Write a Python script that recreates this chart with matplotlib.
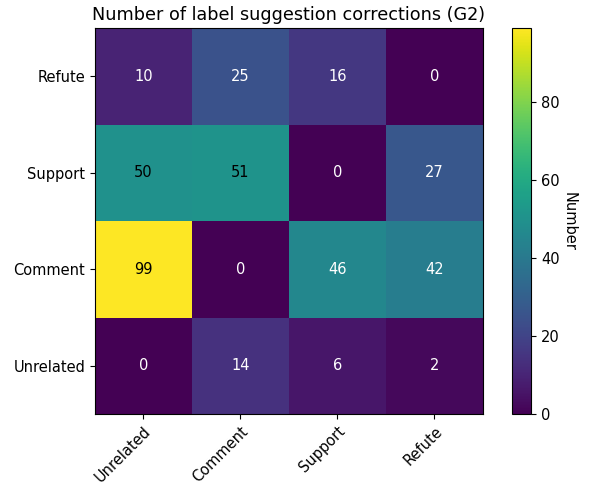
import numpy as np
from matplotlib import pyplot as plt

# rows listed bottom to top
rowLabels = ["Unrelated", "Comment", "Support", "Refute"]
colLabels = ["Unrelated", "Comment", "Support", "Refute"]
counts = np.array([
    [0, 14, 6, 2],
    [99, 0, 46, 42],
    [50, 51, 0, 27],
    [10, 25, 16, 0],
])

plt.rcParams["font.size"] = 10.5

fig = plt.figure(figsize=(5.91, 4.86), dpi=100)
ax = fig.add_axes([0.1607, 0.148, 0.6565, 0.794])
cax = fig.add_axes([0.867, 0.148, 0.032, 0.794])

im = ax.imshow(counts, cmap="viridis", origin="lower", aspect="auto")
ax.set_xticks(np.arange(len(colLabels)))
ax.set_yticks(np.arange(len(rowLabels)))
ax.set_xticklabels(colLabels)
ax.set_yticklabels(rowLabels)
plt.setp(ax.get_xticklabels(), rotation=45, ha="right", rotation_mode="anchor")

threshold = counts.max() / 2
for i in range(len(rowLabels)):
    for j in range(len(colLabels)):
        color = "black" if counts[i, j] > threshold else "white"
        ax.text(j, i, str(counts[i, j]), ha="center", va="center", color=color)

ax.set_title("Number of label suggestion corrections (G2)", fontsize=12.7)

cbar = fig.colorbar(im, cax=cax)
cbar.set_label("Number", rotation=270, labelpad=12)

fig.savefig("out.png")
